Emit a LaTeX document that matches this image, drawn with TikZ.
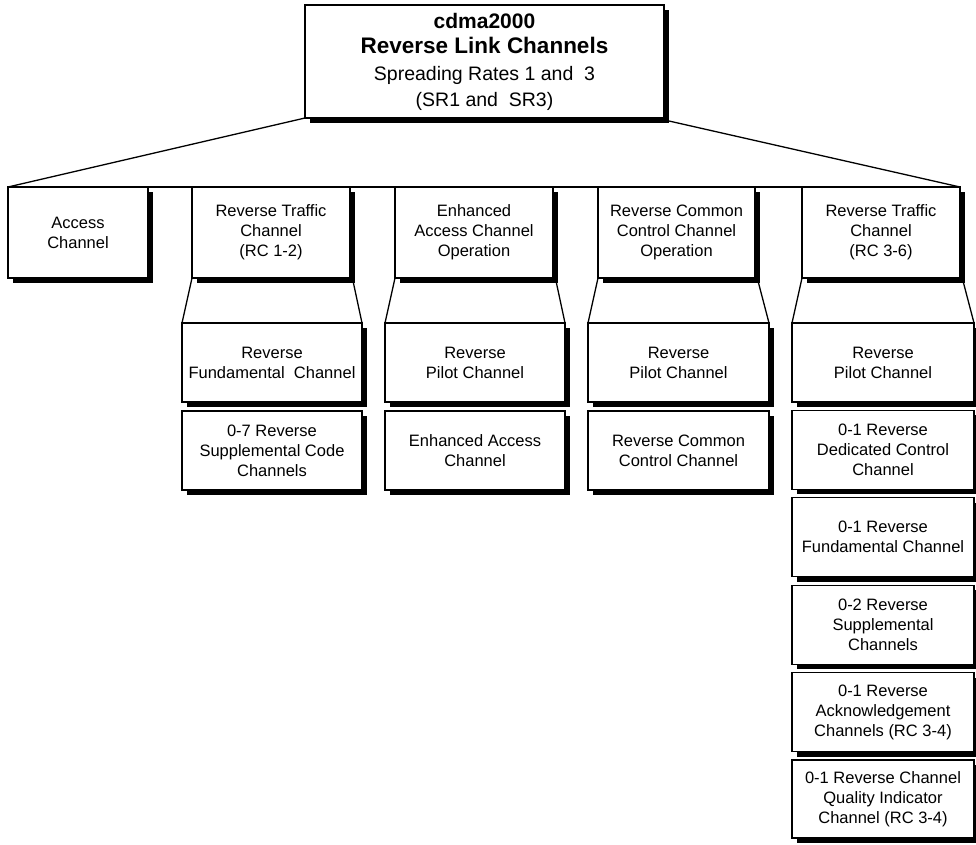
\documentclass[tikz,border=0pt]{standalone}
\usepackage{fontspec}
\setmainfont{Liberation Sans}
\usetikzlibrary{shadows}

\tikzset{
  chbox/.style={draw=black, line width=1.3pt, fill=white, rectangle,
    inner sep=0pt, outer sep=0pt, anchor=north west, align=center,
    font=\fontsize{16.5}{20}\selectfont,
    drop shadow={shadow xshift=5pt, shadow yshift=-5pt, fill=black, opacity=1}},
  link/.style={draw=black, line width=1.3pt}
}
% \chan{name}{left}{top}{width}{height}{text}
\newcommand{\chan}[6]{%
  \node[chbox, minimum width=#4pt, minimum height=#5pt] (#1) at (#2,#3) {#6};}

\begin{document}
\begin{tikzpicture}[x=1pt, y=-1pt]
\useasboundingbox (0,0) rectangle (976,844);
\fill[white] (0,0) rectangle (976,844);

% root
\node[chbox, minimum width=359pt, minimum height=113pt,
      font=\fontsize{20}{25.5}\selectfont] (root) at (305,5)
  {{\fontsize{21}{25.5}\selectfont\bfseries cdma2000}\\
   {\fontsize{22.5}{25.5}\selectfont\bfseries Reverse Link Channels}\\[1.5pt]
   {\fontsize{19.5}{25.5}\selectfont Spreading Rates 1 and\ \ 3}\\
   {\fontsize{19.5}{25.5}\selectfont (SR1 and\ \ SR3)}};

% first level
\chan{acc}{8}{187}{140}{91}{Access\\Channel}
\chan{rtcA}{192}{187}{158}{91}{Reverse Traffic\\Channel\\(RC 1-2)}
\chan{eaco}{395}{187}{158}{91}{Enhanced\\Access Channel\\Operation}
\chan{rcco}{598}{187}{157}{91}{Reverse Common\\Control Channel\\Operation}
\chan{rtcB}{802}{187}{158}{91}{Reverse Traffic\\Channel\\(RC 3-6)}

% second level, RC 1-2
\chan{a1}{182}{323}{180}{79}{Reverse\\Fundamental\ \ Channel}
\chan{a2}{182}{411}{180}{79}{0-7 Reverse\\Supplemental Code\\Channels}
% enhanced access
\chan{b1}{385}{323}{180}{79}{Reverse\\Pilot Channel}
\chan{b2}{385}{411}{180}{79}{Enhanced Access\\Channel}
% common control
\chan{c1}{588}{323}{181}{79}{Reverse\\Pilot Channel}
\chan{c2}{588}{411}{181}{79}{Reverse Common\\Control Channel}
% RC 3-6
\chan{d1}{792}{323}{182}{79}{Reverse\\Pilot Channel}
\chan{d2}{792}{410.4}{182}{79}{0-1 Reverse\\Dedicated Control\\Channel}
\chan{d3}{792}{497.8}{182}{79}{0-1 Reverse\\Fundamental Channel}
\chan{d4}{792}{585.2}{182}{79}{0-2 Reverse\\Supplemental\\Channels}
\chan{d5}{792}{672.6}{182}{79}{0-1 Reverse\\Acknowledgement\\Channels (RC 3-4)}
\chan{d6}{792}{760}{182}{78}{0-1 Reverse Channel\\Quality Indicator\\Channel (RC 3-4)}

% fan-out from the root
\draw[link] (root.south west) -- (acc.north west);
\draw[link] ([xshift=5pt,yshift=-3pt]root.south east) -- (rtcB.north east);
\draw[link] (acc.north west) -- (rtcB.north east);

% funnels to the sub-channels
\foreach \p/\c in {rtcA/a1, eaco/b1, rcco/c1, rtcB/d1}{
  \draw[link] (\p.south west) -- (\c.north west);
  \draw[link] ([xshift=3pt,yshift=-3pt]\p.south east) -- (\c.north east);
}
\end{tikzpicture}
\end{document}
